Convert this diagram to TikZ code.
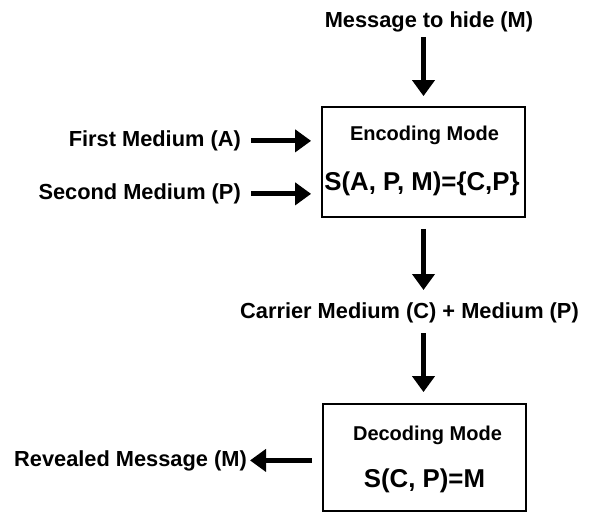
\documentclass[tikz,border=0pt]{standalone}
\usepackage{fontspec}
\setmainfont{Liberation Sans}
\usetikzlibrary{
  arrows.meta,
  positioning,
  calc
}

\begin{document}
\begin{tikzpicture}[
    x=1pt, y=-1pt,
    lbl/.style={inner sep=0pt, font=\fontsize{21.8}{26}\selectfont\bfseries},
    modetxt/.style={inner sep=0pt, font=\fontsize{20}{24}\selectfont\bfseries},
    eqtxt/.style={inner sep=0pt, font=\fontsize{25.8}{30}\selectfont\bfseries},
    modebox/.style={draw, line width=1.8pt, minimum width=203, inner sep=0pt},
    arr/.style={line width=5pt, -{Triangle[length=16pt,width=22pt]}}
    ]

    \useasboundingbox (0,0) rectangle (589,514);

    % entradas
    \node[lbl, anchor=base] (msg) at (429,27.5) {Message to hide (M)};
    \node[lbl, anchor=base east] (first) at (241,146.5) {First Medium (A)};
    \node[lbl, anchor=base east] (second) at (241,199.5) {Second Medium (P)};

    % codificacao
    \node[modebox, minimum height=110] (enc) at (423.5,162) {};
    \node[modetxt, anchor=base] (encmode) at (424.5,140) {Encoding Mode};
    \node[eqtxt, anchor=base] (enceq) at (422,190.5) {S(A, P, M)=\{C,P\}};

    % meio portador
    \node[lbl, anchor=base] (carrier) at (409.5,318) {Carrier Medium (C) + Medium (P)};

    % decodificacao
    \node[modebox, minimum height=107] (dec) at (424.5,457.5) {};
    \node[modetxt, anchor=base] (decmode) at (427.5,440) {Decoding Mode};
    \node[eqtxt, anchor=base] (deceq) at (424.5,487.5) {S(C, P)=M};

    \node[lbl, anchor=base east] (reveal) at (247,466) {Revealed Message (M)};

    % setas
    \draw[arr, shorten <=5pt, shorten >=10pt]
    (enc.north |- msg.south) -- (enc.north);

    \draw[arr, shorten <=10pt, shorten >=10pt]
    (first.east) -- (first.east -| enc.west);

    \draw[arr, shorten <=10pt, shorten >=10pt]
    (second.east) -- (second.east -| enc.west);

    \draw[arr, shorten <=11pt, shorten >=12pt]
    (enc.south) -- (enc.south |- carrier.north);

    \draw[arr, shorten <=10.5pt, shorten >=11pt]
    (enc.south |- carrier.south) -- (enc.south |- dec.north);

    \draw[arr, shorten <=10pt, shorten >=3pt]
    (dec.west |- reveal.east) -- (reveal.east);

\end{tikzpicture}
\end{document}
